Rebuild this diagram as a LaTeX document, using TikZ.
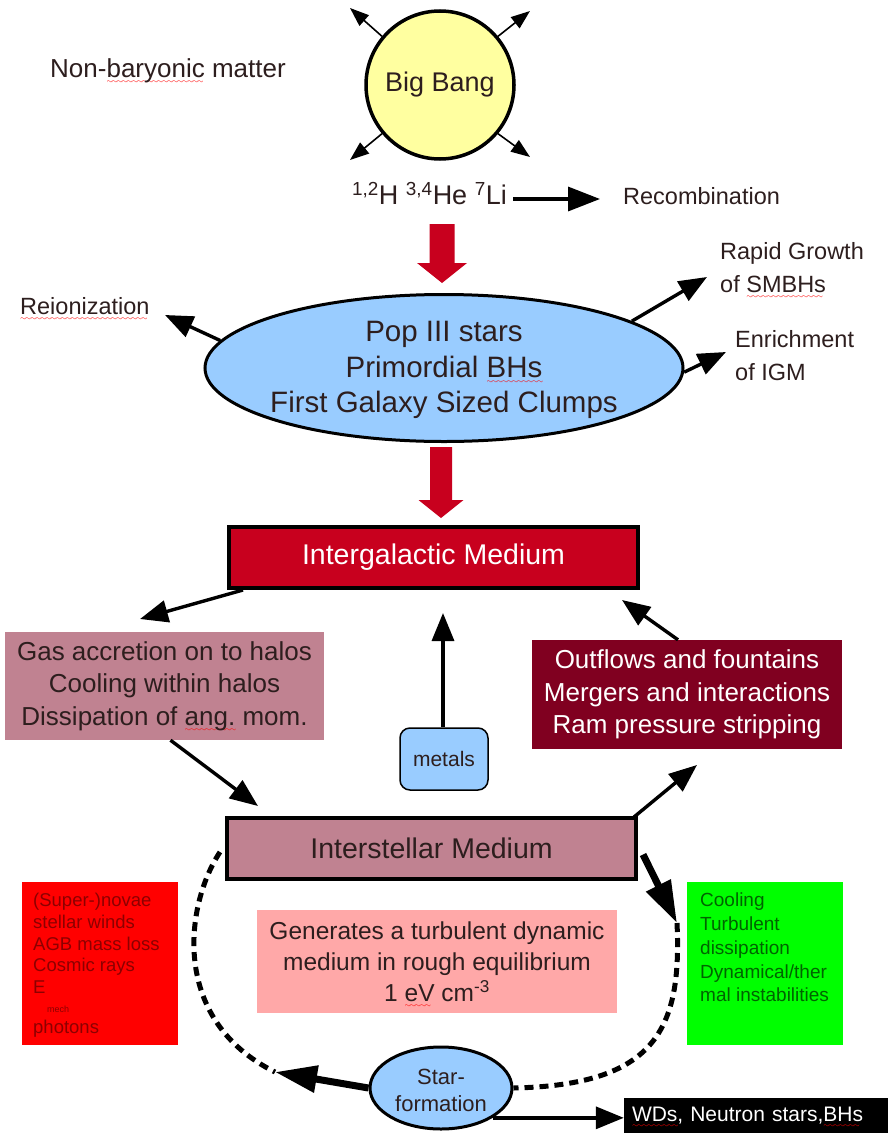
\documentclass[tikz,border=0pt]{standalone}
\usepackage{fontspec}
\setmainfont{Liberation Sans}
\usetikzlibrary{arrows.meta,shapes.geometric}
\definecolor{bbyellow}{RGB}{255,255,160}
\definecolor{popblue}{RGB}{153,204,255}
\definecolor{igmred}{RGB}{200,0,30}
\definecolor{mauve}{RGB}{192,130,145}
\definecolor{maroonbox}{RGB}{128,0,32}
\definecolor{pinkbox}{RGB}{255,168,168}
\definecolor{darktext}{RGB}{45,30,30}
\definecolor{redtext}{RGB}{140,0,0}
\definecolor{greentext}{RGB}{0,100,0}
\definecolor{boxred}{RGB}{255,0,0}
\definecolor{boxgreen}{RGB}{0,255,0}
\newcommand\rw[1]{\setbox0\hbox{#1}\rlap{\raisebox{-6pt}[0pt][0pt]{\textcolor{red}{\hbox to \wd0{\leaders\hbox{\fontsize{7}{7}\selectfont$\sim$\kern-1.2pt}\hfill}}}}\box0\relax}
\newcommand\fsz[2]{\fontsize{#1}{#2}\selectfont}
\begin{document}
\begin{tikzpicture}[x=1pt,y={(0pt,-1pt)},
  arr/.style={line width=3.4pt, -{Triangle[length=28pt,width=22pt]}},
  sarr/.style={line width=1.6pt, -{Triangle[length=19pt,width=14pt]}},
  fatarr/.style={line width=7pt, -{Triangle[length=42pt,width=26pt]}},
  dsh/.style={line width=5pt, dash pattern=on 9pt off 6pt},
  txt/.style={inner sep=0pt, text=darktext},
  box/.style={rectangle, inner sep=0pt},
]
\useasboundingbox (0,0) rectangle (893,1135);
\fill[white] (0,0) rectangle (893,1135);

% ---- top ----
\node[txt, anchor=west, font=\fsz{26}{30}] (nbm) at (50,71) {Non-\rw{baryonic} matter};
\node[circle, draw, line width=3.5pt, fill=bbyellow, minimum size=148pt, inner sep=0pt] (bb) at (440,85) {};
\node[txt, font=\fsz{27}{30}] (bbt) at (bb.center) {Big Bang};
\coordinate (bbnw) at (350,8);
\coordinate (bbne) at (530,11);
\coordinate (bbsw) at (350,160);
\coordinate (bbse) at (530,157);
\draw[sarr] (bb.140) -- (bbnw);
\draw[sarr] (bb.40) -- (bbne);
\draw[sarr] (bb.220) -- (bbsw);
\draw[sarr] (bb.320) -- (bbse);

\node[txt, anchor=west, font=\fsz{27}{30}] (iso) at (352,194) {\textsuperscript{1,2}H \textsuperscript{3,4}He \textsuperscript{7}Li};
\node[txt, anchor=west, font=\fsz{23.5}{28}] (rec) at (623,196) {Recombination};
\coordinate (recA) at (513,199);
\coordinate (recB) at (600,199);
\draw[line width=3.4pt, -{Triangle[length=32pt,width=24pt]}] (recA) -- (recB);

% red block arrow 1
\fill[igmred] (429.5,224) -- (454.5,224) -- (454.5,263) -- (467,263) -- (442,283) -- (417,263) -- (429.5,263) -- cycle;

% ---- Pop III ellipse ----
\node[ellipse, draw, line width=3pt, fill=popblue, minimum width=478pt, minimum height=147pt, inner sep=0pt] (pop) at (444,368) {};
\node[txt, align=center, font=\fsz{29.5}{35.5}] (popt) at (444,370) {Pop III stars\\Primordial \rw{BHs}\\First Galaxy Sized Clumps};

\node[txt, anchor=west, font=\fsz{23.5}{28}] (rei) at (20,306) {\rw{Reionization}};
\node[txt, anchor=west, align=left, font=\fsz{23.5}{33}] (rg) at (720,268) {Rapid Growth\\of \rw{SMBHs}};
\node[txt, anchor=west, align=left, font=\fsz{23.5}{33}] (enr) at (735,356) {Enrichment\\of IGM};
\coordinate (reiT) at (165,315);
\coordinate (rgT) at (707,277);
\coordinate (enrT) at (726,352);
\draw[arr] (pop.173) -- (reiT);
\draw[arr] (pop.14) -- (rgT);
\draw[arr] (pop.-1) -- (enrT);

% red block arrow 2
\fill[igmred] (430,447) -- (452,447) -- (452,500) -- (463.5,500) -- (441,518) -- (418.5,500) -- (430,500) -- cycle;

% ---- IGM ----
\node[box, draw, line width=4pt, fill=igmred, minimum width=409pt, minimum height=61pt, text=white, font=\fsz{28.5}{32}] (igm) at (433.5,557.5) {Intergalactic Medium};

\node[box, fill=mauve, minimum width=319pt, minimum height=108pt, align=center, text=darktext, font=\fsz{26}{32.5}] (gas) at (164.5,686) {Gas accretion on to halos\\Cooling within halos\\Dissipation of \rw{ang.} mom.};

\node[box, fill=maroonbox, minimum width=310pt, minimum height=109pt, align=center, text=white, font=\fsz{26}{32.5}] (out) at (687,694.5) {Outflows and fountains\\Mergers and interactions\\Ram pressure stripping};

\node[box, draw, line width=1.5pt, rounded corners=10pt, fill=popblue, minimum width=88pt, minimum height=62pt, text=darktext, font=\fsz{21}{25}] (met) at (444,759) {metals};

\coordinate (gasT) at (140,619);
\coordinate (ismT) at (258,806);
\coordinate (metT) at (443,613);
\coordinate (outT) at (622,600);
\coordinate (out2T) at (697,765);
\draw[arr] ([xshift=16pt]igm.south west) -- (gasT);
\draw[arr] ([xshift=6pt]gas.south) -- (ismT);
\draw[arr] (met.north -| metT) -- (metT);
\draw[arr] ([xshift=-9pt]out.north) -- (outT);

% ---- ISM ----
\node[box, draw, line width=4pt, fill=mauve, minimum width=409pt, minimum height=61pt, text=darktext, font=\fsz{28.5}{32}] (ism) at (431.5,848.5) {Interstellar Medium};
\draw[arr] ([xshift=-4pt,yshift=-1pt]ism.north east) -- (out2T);

% side boxes
\node[box, fill=boxred, minimum width=156pt, minimum height=163pt] (rb) at (100,963.5) {};
\node[txt, anchor=north west, align=left, text=redtext, font=\fsz{18.5}{21.7}] (rbt) at (33,893) {(Super-)novae\\stellar winds\\AGB mass loss\\Cosmic rays\\E\\[-3pt]\hspace*{14pt}{\fsz{9}{10}mech}\\photons};
\node[box, fill=boxgreen, minimum width=156pt, minimum height=163pt] (gb) at (765,963.5) {};
\node[txt, anchor=north west, align=left, text=greentext, font=\fsz{19}{23.7}] (gbt) at (700,893) {Cooling\\Turbulent\\dissipation\\Dynamical/ther\\mal instabilities};

\node[box, fill=pinkbox, minimum width=360pt, minimum height=103pt, align=center, text=darktext, font=\fsz{24.5}{31}] (pk) at (437,961.5) {Generates a turbulent dynamic\\medium in rough equilibrium\\1 \rw{eV} cm\textsuperscript{-3}};

% ---- star formation ----
\node[ellipse, draw, line width=3pt, fill=popblue, minimum width=142pt, minimum height=82pt, inner sep=0pt] (sf) at (441,1088) {};
\node[txt, align=center, font=\fsz{22}{27}] (sft) at (441,1090) {Star-\\formation};

\node[box, fill=black, minimum width=264pt, minimum height=35pt, text=white, text width=248pt, align=left, font=\fsz{21}{25}] (wds) at (756,1115.5) {\rw{WDs}, Neutron stars,\rw{BHs}};
\draw[arr] (sf.-30) -- (sf.-30 -| wds.west);

% thick arrows and dashed loop
\coordinate (tkR) at (677,923);
\coordinate (tkL) at (275,1072);
\coordinate (dsL) at (220,852);
\draw[fatarr] ([xshift=5pt,yshift=-6pt]ism.east) -- (tkR);
\draw[fatarr] (sf.west) -- (tkL);
\draw[dsh] (dsL) .. controls (185,905) and (170,1020) .. (tkL);
\draw[dsh] (tkR) .. controls (682,1030) and (655,1085) .. (sf.east);
\end{tikzpicture}
\end{document}
